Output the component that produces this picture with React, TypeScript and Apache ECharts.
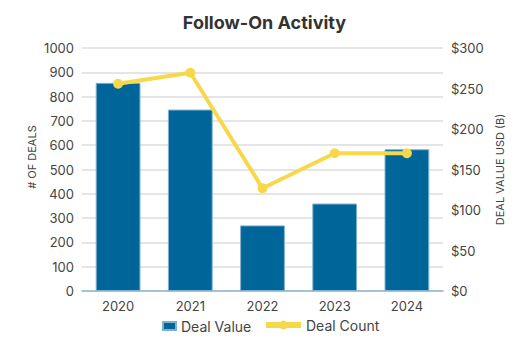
import React, { useEffect, useRef } from "react";
import * as echarts from "echarts";

const years = ["2020", "2021", "2022", "2023", "2024"];
const dealValue = [257, 224, 81, 108, 175];
const dealCount = [853, 898, 423, 567, 567];

export default function App() {
  const ref = useRef<HTMLDivElement>(null);
  useEffect(() => {
    const chart = echarts.init(ref.current!, null, { renderer: "svg" });
    const font = "Inter, 'Noto Sans', sans-serif";
    const legendText = { fontSize: 14, color: "#444", fontFamily: font };
    chart.setOption({
      animation: false,
      textStyle: { fontFamily: font },
      title: {
        text: "Follow-On Activity",
        left: "center",
        top: 8,
        textStyle: { fontSize: 18, fontWeight: "bold", color: "#333", fontFamily: font },
      },
      legend: [
        {
          top: 314,
          left: 157,
          textStyle: legendText,
          data: [{ name: "Deal Value", icon: "rect" }],
          itemWidth: 13,
          itemHeight: 8,
        },
        {
          top: 313,
          left: 258,
          textStyle: legendText,
          data: [{ name: "Deal Count" }],
          itemWidth: 35,
          itemHeight: 11,
          lineStyle: { width: 6 },
        },
      ],
      grid: { left: 82, right: 86, top: 48, bottom: 59 },
      xAxis: {
        type: "category",
        data: years,
        axisTick: { show: false },
        axisLine: { lineStyle: { color: "#8fb7d3", width: 1.5 } },
        axisLabel: { color: "#444", fontSize: 13, margin: 8 },
      },
      yAxis: [
        {
          type: "value",
          min: 0,
          max: 1000,
          interval: 100,
          axisLabel: { color: "#444", fontSize: 13, margin: 8, formatter: (v: number) => String(v) },
          splitLine: { lineStyle: { color: "#ddd", width: 1.5 } },
        },
        {
          type: "value",
          min: 0,
          max: 300,
          interval: 50,
          name: "DEAL VALUE USD (B)",
          nameLocation: "middle",
          nameGap: 50,
          nameTextStyle: { color: "#444", fontSize: 11 },
          axisLabel: { color: "#444", fontSize: 13, margin: 8, formatter: "${value}" },
          splitLine: { show: false },
        },
      ],
      graphic: [
        {
          type: "text",
          x: 32,
          y: 157,
          rotation: Math.PI / 2,
          style: {
            text: "# OF DEALS",
            align: "center",
            verticalAlign: "middle",
            fontSize: 11,
            fill: "#444",
            fontFamily: font,
          },
        },
      ],
      series: [
        {
          name: "Deal Value",
          type: "bar",
          yAxisIndex: 1,
          data: dealValue,
          barWidth: "62%",
          itemStyle: { color: "#006699", borderColor: "#7fb0d0", borderWidth: 1 },
        },
        {
          name: "Deal Count",
          type: "line",
          yAxisIndex: 0,
          data: dealCount,
          symbol: "circle",
          symbolSize: 10,
          lineStyle: { color: "#f7d84a", width: 4 },
          itemStyle: { color: "#f7d84a" },
        },
      ],
    });
    return () => chart.dispose();
  }, []);
  return (
    <div
      ref={ref}
      style={{ position: "absolute", left: 0, top: 0, width: 529, height: 350 }}
    />
  );
}
